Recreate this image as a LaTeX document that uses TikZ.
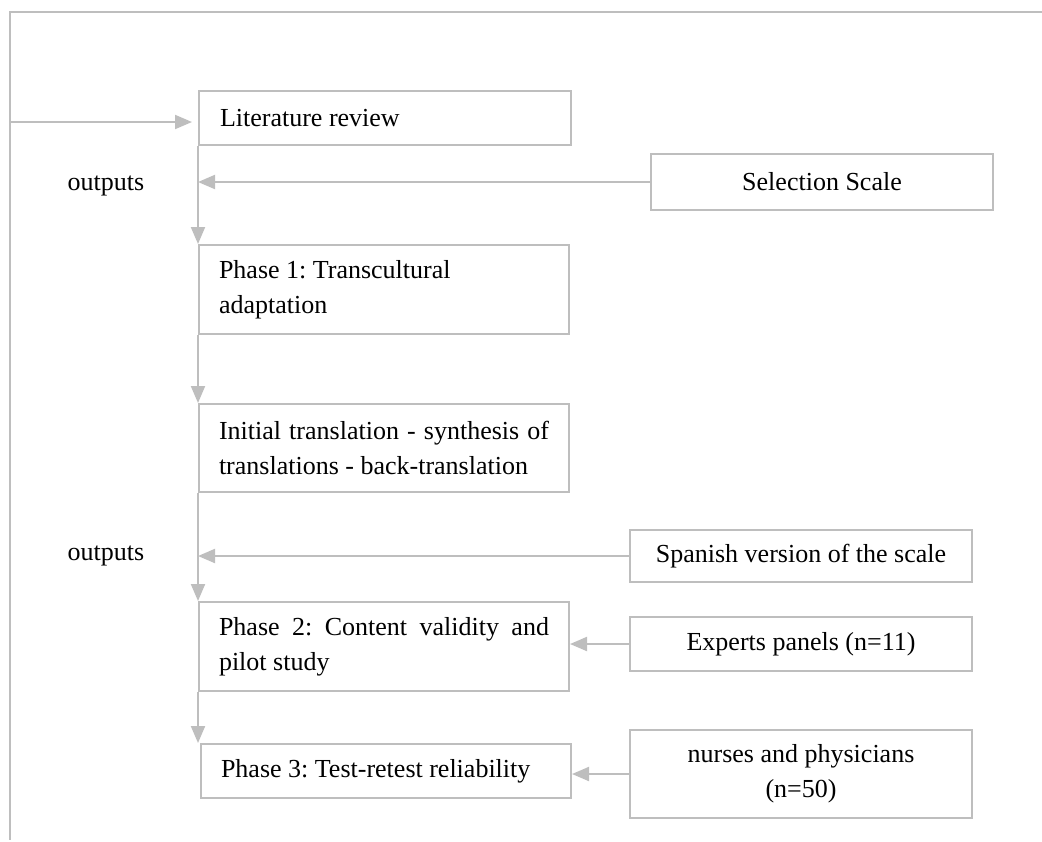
\documentclass[tikz,border=0pt]{standalone}
\usepackage{fontspec}
\setmainfont{Liberation Serif}
\usetikzlibrary{arrows.meta}
\definecolor{lg}{RGB}{190,190,190}
\begin{document}
\frenchspacing
\begin{tikzpicture}[x=0.5pt,y=-0.5pt,
  txt/.style={font=\fontsize{13}{17.5}\selectfont\frenchspacing, text=black},
  lbox/.style={txt, draw=lg, line width=1pt, anchor=north west, text width=165pt,
    inner xsep=10pt, inner ysep=0pt, minimum width=185pt, align=flush left},
  rbox/.style={txt, draw=lg, line width=1pt, anchor=north west, minimum width=171pt,
    inner sep=0pt, align=center},
  ln/.style={draw=lg, line width=1pt},
  arr/.style={draw=lg, line width=1pt, -{Triangle[length=8.5pt,width=7pt]}}]
\useasboundingbox (0,0) rectangle (1042,841);

\node[lbox, minimum height=27pt, minimum width=186pt] (lit) at (198,90) {Literature review};
\node[lbox, minimum height=44.5pt] (p1) at (198,244) {Phase 1: Transcultural\\adaptation};
\node[lbox, minimum height=44pt] (init) at (198,403) {\makebox[\hsize][s]{Initial translation - synthesis of}\\translations - back-translation};
\node[lbox, minimum height=44.5pt] (p2) at (198,601) {\makebox[\hsize][s]{Phase 2: Content validity and}\\pilot study};
\node[lbox, minimum height=27pt] (p3) at (200,743) {Phase 3: Test-retest reliability};

\node[rbox, minimum height=28pt] (sel) at (650,153) {Selection Scale};
\node[rbox, minimum height=26pt] (span) at (629,529) {Spanish version of the scale};
\node[rbox, minimum height=27pt] (exp) at (629,616) {Experts panels (n=11)};
\node[rbox, minimum height=44pt] (nur) at (629,729) {nurses and physicians\\(n=50)};

\node[txt] (out1) at (106,186) {outputs};
\node[txt] (out2) at (106,556) {outputs};

\coordinate (tl) at (10,12);
\coordinate (tr) at (1042,12);
\coordinate (bl) at (10,840);
\coordinate (in) at (10,122);

\draw[ln] (tr) -- (tl) -- (bl);
\draw[arr] (in) -- ([xshift=-3pt]in -| lit.west);
\draw[arr] (lit.south west) -- (p1.north west);
\draw[arr] (sel.west) -- (sel.west -| lit.south west);
\draw[arr] (p1.south west) -- (init.north west);
\draw[arr] (init.south west) -- (p2.north west);
\draw[arr] (span.west) -- (span.west -| init.south west);
\draw[arr] (exp.west) -- (exp.west -| p2.east);
\draw[arr] (p2.south west) -- (p2.south west |- p3.north);
\draw[arr] (nur.west) -- (nur.west -| p3.east);
\end{tikzpicture}
\end{document}
